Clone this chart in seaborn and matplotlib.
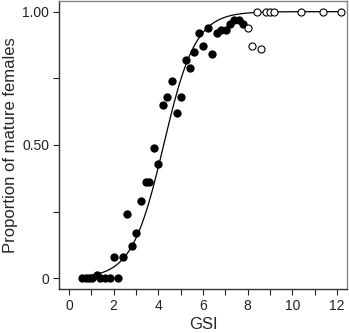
import numpy as np
import pandas as pd
import matplotlib
matplotlib.use("Agg")
import matplotlib.pyplot as plt
import seaborn as sns

# mature females, closed symbols
filled_gsi = [0.6, 0.75, 0.9, 1.05, 1.25, 1.4, 1.6, 1.85, 2.2,
              2.03, 2.4, 2.61, 2.81, 3.0, 3.22, 3.45, 3.58, 3.82, 4.0,
              4.22, 4.40, 4.63, 4.82, 5.02, 5.22, 5.42, 5.61, 5.82, 6.01,
              6.21, 6.42, 6.61, 6.81, 7.02, 7.21, 7.40, 7.61, 7.81]
filled_prop = [0, 0, 0, 0, 0.01, 0, 0, 0, 0,
               0.08, 0.08, 0.24, 0.12, 0.17, 0.29, 0.36, 0.36, 0.49, 0.43,
               0.65, 0.68, 0.74, 0.62, 0.68, 0.82, 0.79, 0.85, 0.92, 0.87,
               0.94, 0.84, 0.92, 0.93, 0.93, 0.955, 0.97, 0.97, 0.955]

# open symbols
open_gsi = [8.0, 8.21, 8.40, 8.60, 8.81, 9.0, 9.19, 10.39, 11.39, 12.18]
open_prop = [0.94, 0.87, 1.0, 0.86, 1.0, 1.0, 1.0, 1.0, 1.0, 1.0]

# logistic fit parameters
gsi50 = 4.24
slope = 1.4

sns.set_theme(style="ticks")
plt.rcParams['font.family'] = ['Liberation Sans', 'DejaVu Sans']

fig = plt.figure(figsize=(3.49, 3.33), dpi=100)
ax = fig.add_axes([0.169, 0.132, 0.825, 0.865])

curve_x = np.linspace(0.7, 12.18, 300)
curve = pd.DataFrame({'GSI': curve_x,
                      'p': 1 / (1 + np.exp(-slope * (curve_x - gsi50)))})
sns.lineplot(data=curve, x='GSI', y='p', color='black', linewidth=0.9, ax=ax)

sns.scatterplot(x=filled_gsi, y=filled_prop, color='black', s=36,
                edgecolor='black', linewidth=0, ax=ax, zorder=3)
sns.scatterplot(x=open_gsi, y=open_prop, facecolor='white', s=26,
                edgecolor='black', linewidth=0.8, ax=ax, zorder=3)

ax.set_xlim(-0.45, 12.45)
ax.set_ylim(-0.041, 1.04)
ax.set_xticks(range(0, 13))
ax.set_xticklabels([str(i) if i % 2 == 0 else '' for i in range(0, 13)])
ax.set_yticks([0, 0.25, 0.5, 0.75, 1.0])
ax.set_yticklabels(['0', '', '0.50', '', '1.00'])
ax.tick_params(length=4, width=0.8, labelsize=10, colors='#222222', pad=3)

ax.set_xlabel('GSI', fontsize=12, labelpad=3)
ax.set_ylabel('Proportion of mature females', fontsize=12, labelpad=3)

for side in ['left', 'bottom']:
    ax.spines[side].set_color('#333333')
    ax.spines[side].set_linewidth(1.0)
for side in ['top', 'right']:
    ax.spines[side].set_visible(True)
    ax.spines[side].set_color('#888888')
    ax.spines[side].set_linewidth(1.0)

fig.savefig('out.png', dpi=100)
